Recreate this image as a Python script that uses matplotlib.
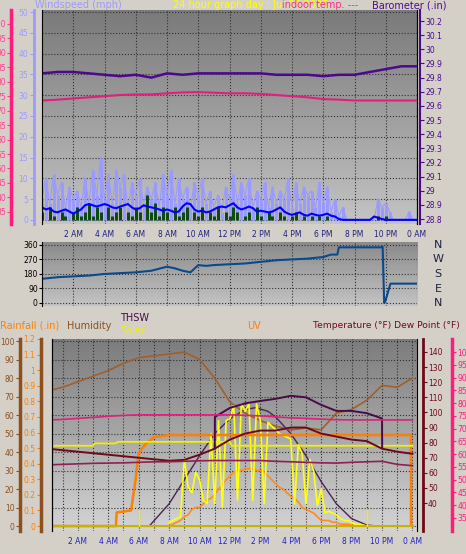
import matplotlib
matplotlib.use('Agg')
import matplotlib.pyplot as plt
import numpy as np

plt.rcParams['font.family'] = ['DejaVu Sans']
plt.rcParams['font.size'] = 5.5
FS = 5.5
HFS = 7

# ---------------- data ----------------
hour_ticks = list(range(2, 25, 2))
hour_labels = ['2 AM', '4 AM', '6 AM', '8 AM', '10 AM', '12 PM', '2 PM', '4 PM',
               '6 PM', '8 PM', '10 PM', '0 AM']

# top panel, quarter-hour steps
wind_t = [i * 0.25 for i in range(97)]
gust = [5, 10, 4, 11, 6, 9, 3, 8, 5, 7, 3, 10, 4, 12, 6, 15, 5, 11, 4, 12, 8, 11, 3, 9,
        6, 10, 4, 8, 5, 9, 3, 11, 6, 12, 4, 10, 5, 8, 3, 9, 6, 10, 4, 7, 3, 6, 2, 8,
        5, 11, 4, 9, 6, 10, 3, 7, 5, 9, 3, 8, 4, 7, 5, 10, 3, 9, 4, 8, 6, 7, 3, 9,
        4, 8, 2, 5, 1, 3, 0, 0, 0, 0, 0, 0, 0, 0, 5, 3, 4, 2, 0, 0, 0, 0, 2, 0, 0]
wind_avg = [3, 2.5, 2.8, 2, 1.8, 2.2, 2.5, 2, 1.5, 2, 2.5, 3.5, 3.8, 3.5, 3.2, 3.5, 3.8, 3.5, 3, 2.8,
            3.2, 3.5, 3.8, 3, 2.5, 2.8, 3.5, 3.2, 3, 2.8, 2.5, 2.2, 2.5, 2.2, 1.8, 2, 3.2, 4, 3.8, 2.5,
            2, 2.2, 1.8, 2, 2.5, 3, 3.2, 3, 3.5, 4, 3, 2.5, 2.8, 3.2, 2.8, 2, 2.2, 2, 1.8, 2,
            2.5, 3, 2, 1.5, 1.2, 1.5, 1.8, 1.2, 1, 1.5, 1.2, 1, 1.2, 1.5, 1, 0.8, 0.2, 0, 0, 0,
            0, 0, 0, 0, 0, 0.8, 0.5, 0.2, 0, 0, 0, 0, 0, 0, 0, 0, 0]
wind_spd = [2, 0, 3, 1, 0, 2, 1, 0, 2, 3, 1, 2, 4, 1, 3, 2, 0, 3, 1, 2, 3, 0, 2, 1,
            3, 2, 0, 6, 2, 4, 1, 3, 2, 0, 3, 1, 2, 3, 0, 2, 1, 3, 0, 2, 1, 3, 0, 2,
            1, 3, 2, 0, 1, 2, 0, 3, 1, 0, 2, 1, 0, 2, 1, 0, 1, 2, 0, 1, 0, 1, 0, 1,
            0, 1, 0, 0, 0, 0, 0, 0, 0, 0, 0, 0, 0, 0, 1, 0, 1, 0, 0, 0, 0, 0, 0, 0, 0]

t_hourly = list(range(25))
barometer = [29.83, 29.84, 29.84, 29.83, 29.82, 29.81, 29.82, 29.80, 29.83, 29.82, 29.83, 29.83,
             29.83, 29.83, 29.83, 29.82, 29.82, 29.82, 29.81, 29.82, 29.82, 29.84, 29.86, 29.88, 29.88]
indoor = [73.5, 73.8, 74.2, 74.6, 75.0, 75.4, 75.6, 75.6, 76.0, 76.3, 76.4, 76.2,
          76.0, 76.0, 75.8, 75.4, 75.0, 74.6, 74.0, 73.8, 73.5, 73.5, 73.5, 73.5, 73.5]

dir_t = [0, 1, 2, 3, 4, 5, 6, 7, 8, 8.5, 9, 9.5, 10, 10.5, 11, 12, 13, 14, 15, 16, 17, 18,
         18.5, 18.9, 19, 21.7, 21.8, 21.9, 22.0, 22.3, 24]
wind_dir = [150, 160, 165, 170, 180, 185, 190, 200, 225, 215, 200, 190, 235, 230, 235, 240,
            245, 255, 265, 270, 275, 285, 300, 300, 345, 345, 350, 0, 20, 120, 120]

# bottom panel
humidity = [73, 75, 78, 81, 84, 88, 91, 92, 93, 94, 90, 80, 67, 61, 57, 54, 52, 53,
            52, 61, 63, 68, 76, 75, 80]
temperature = [76, 75, 74, 73, 72, 71, 70, 69, 68, 68.6, 72, 76, 82, 86, 88, 88, 90, 90,
               86, 84, 82, 81, 76, 74, 72.6]
dew_point = [55.8, 56, 56.2, 56.4, 56.5, 56.6, 56.8, 57, 57, 57.2, 57.4, 57.5, 57.5,
             57.5, 57.5, 57.2, 57, 56.8, 56.6, 56.5, 56.8, 57, 57.2, 56, 55.5]
indoor_bot = [73.4, 73.6, 74, 74.4, 74.8, 75.2, 75.4, 75.4, 75.4, 75.4, 75.4, 75.4, 75.4,
              75.2, 75, 74.6, 74.2, 74, 73.7, 73.5, 73.4, 73.4, 73.4, 73.4, 73.4]
thsw_t = [11, 11.01, 12, 13, 14, 15, 16, 17, 18, 19, 20, 21, 22, 22.01]
thsw = [76, 97, 103, 106, 107.6, 109, 111, 110, 105, 101, 101, 99.5, 96, 77]
solar_max_t = [6.7, 8, 9, 10, 11, 12, 13, 13.7, 14.5, 15, 16, 17, 18, 19, 20, 21, 21.7]
solar_max = [0, 12, 25, 38, 50, 58, 63, 64, 62, 59, 50, 38, 24, 12, 4, 0.5, 0]
solar_t = [i * 0.25 + 8 for i in range(53)]
solar = [2, 3, 4, 5, 36, 21, 18, 29, 25, 14, 12, 50, 12, 57, 10, 57, 58, 65, 14, 66, 62, 66, 14,
         66, 57, 12, 56, 54, 52, 50, 49, 48, 47, 12, 44, 39, 12, 36, 30, 11, 20, 7, 8, 7, 6, 4,
         3, 3, 2, 1, 1, 0.5, 0]
uv = [0, 1, 2, 3, 5, 6, 9, 10, 10, 12, 14, 15, 17, 20, 22, 25, 27, 29, 30, 30, 31, 31, 31,
      30, 30, 29, 27, 25, 23, 21, 20, 18, 16, 15, 13, 10, 9, 8, 7, 5, 3, 3, 3, 2, 2, 1, 1,
      1, 0.5, 0, 0, 0, 0]
rain_t = [0, 4.5, 4.55, 5.5, 5.8, 6.0, 6.5, 7, 8, 23.9, 23.91, 24]
rainfall = [0, 0, 0.087, 0.1, 0.3, 0.47, 0.53, 0.57, 0.584, 0.584, 0, 0]
et_t = [0, 3, 3.1, 4.5, 4.6, 12, 12.1, 24]
et = [0.515, 0.515, 0.53, 0.53, 0.54, 0.54, 0.515, 0.515]

# ---------------- figure ----------------
BG = '#d4d0c8'
fig = plt.figure(figsize=(4.66, 5.54), dpi=100, facecolor=BG)
W, H = 466, 554


def box(x0, y0, x1, y1):
    return [x0 / W, 1 - y1 / H, (x1 - x0) / W, (y1 - y0) / H]


def gradient(ax, top='#7c7c7c', bottom='#d0d0d0'):
    c0 = np.array(matplotlib.colors.to_rgb(top))
    c1 = np.array(matplotlib.colors.to_rgb(bottom))
    g = np.linspace(0, 1, 256)[:, None, None]
    img = c0 * (1 - g) + c1 * g
    ax.imshow(img, extent=[0, 1, 0, 1], transform=ax.transAxes, aspect='auto', zorder=-5)


def style_x(ax, color):
    ax.set_xlim(0, 24)
    ax.set_xticks(hour_ticks)
    ax.set_xticklabels(hour_labels, color=color, fontsize=FS)
    ax.tick_params(axis='x', length=0, pad=4)


# ---- top panel ----
ax1 = fig.add_axes(box(42, 10, 417, 224))
gradient(ax1, '#7a7a7a', '#c4c4c4')
ax1.vlines(wind_t, 0, gust, color='#9a9aff', lw=2.2)
ax1.plot(wind_t, gust, color='#9a9aff', lw=0.8)
ax1.vlines(wind_t, 0, wind_spd, color='#0c4a10', lw=2.2)
ax1.plot(wind_t, wind_avg, color='#0000ff', lw=1.5)
ax1.set_ylim(-1, 50.5)
ax1.set_yticks(range(0, 51, 5))
ax1.tick_params(axis='y', colors='#9a9aff', labelsize=FS, length=3, pad=1)
ax1.spines['left'].set_position(('outward', 6))
ax1.spines['left'].set_color('#9a9aff')
ax1.spines['left'].set_linewidth(2)
style_x(ax1, '#202080')
ax1.grid(True, color='#303030', ls=':', lw=0.8)

ax1p = ax1.twinx()
ax1p.plot(t_hourly, indoor, color='#e0207a', lw=1.5)
ax1p.set_ylim(30.8, 104.8)
ax1p.set_yticks(range(35, 101, 5))
ax1p.yaxis.set_ticks_position('left')
ax1p.spines['left'].set_visible(True)
ax1p.spines['left'].set_position(('outward', 22))
ax1p.spines['left'].set_color('#ff1c7c')
ax1p.spines['left'].set_linewidth(2.5)
ax1p.tick_params(axis='y', colors='#ff3c8c', labelsize=FS, length=3, pad=1)

ax1b = ax1.twinx()
ax1b.plot(t_hourly, barometer, color='#4b0a8c', lw=1.8)
ax1b.set_ylim(28.765, 30.278)
bticks = np.round(np.arange(28.8, 30.25, 0.1), 1)
ax1b.set_yticks(bticks)
ax1b.set_yticklabels([f'{v:g}' for v in bticks])
ax1b.spines['right'].set_position(('outward', 2))
ax1b.spines['right'].set_color('#4b0a8c')
ax1b.spines['right'].set_linewidth(1.5)
ax1b.tick_params(axis='y', colors='#4b0a8c', labelsize=FS, length=3, pad=1)
for s in ['top', 'bottom']:
    for a in (ax1, ax1p, ax1b):
        a.spines[s].set_visible(False)

fig.text(35 / W, 1 - 5 / H, 'Windspeed (mph)', color='#9a9aff', fontsize=HFS, va='center')
fig.text(173 / W, 1 - 5 / H, '24 hour graph day : Jul 05 2025', color='#ffff00',
         fontsize=HFS, va='center')
fig.text(282 / W, 1 - 5 / H, 'indoor temp. ---', color='#ff1c7c', fontsize=HFS, va='center',
         alpha=0.9)
fig.text(372 / W, 1 - 5 / H, 'Barometer (.in)', color='#4b0a8c', fontsize=HFS, va='center')

# ---- middle panel ----
ax2 = fig.add_axes(box(42, 242, 417, 306))
gradient(ax2, '#8a8a8a', '#c4c4c4')
ax2.plot(dir_t, wind_dir, color='#0a4a8c', lw=1.5)
ax2.set_ylim(-18.6, 378)
ax2.set_yticks([0, 90, 180, 270, 360])
ax2.tick_params(axis='y', labelsize=FS, length=2, pad=1)
ax2.set_xlim(0, 24)
ax2.set_xticks(hour_ticks)
ax2.set_xticklabels([])
ax2.tick_params(axis='x', length=0)
ax2.grid(True, color='#303030', ls=':', lw=0.8)
for s in ['top', 'right', 'bottom']:
    ax2.spines[s].set_visible(False)
for i, lab in enumerate(['N', 'W', 'S', 'E', 'N']):
    fig.text(438 / W, 1 - (245 + i * 14.5) / H, lab, fontsize=8, ha='center', va='center',
             color='#202040')

# ---- bottom panel ----
ax3 = fig.add_axes(box(52, 339, 417, 531))
gradient(ax3, '#7c7c7c', '#d4d4d4')
ax3.plot(solar_max_t, solar_max, color='#50205a', lw=1)
ax3.plot(t_hourly, humidity, color='#a0602a', lw=1.2)
ax3.plot(solar_t, uv, color='#ff8c1a', lw=1.2)
ax3.plot(solar_t, solar, color='#ffff10', lw=1.2)
ax3.set_ylim(-2.7, 101.1)
ax3.set_yticks(range(0, 101, 10))
ax3.spines['left'].set_position(('outward', 23))
ax3.spines['left'].set_color('#8c5020')
ax3.spines['left'].set_linewidth(2.5)
ax3.tick_params(axis='y', colors='#8c5020', labelsize=FS, length=3, pad=1)
style_x(ax3, '#2020d0')
ax3.set_xlim(0.3, 24.3)
ax3.set_xticks(range(1, 25), minor=True)
ax3.tick_params(axis='x', which='minor', length=0)
ax3.grid(True, which='both', color='#303030', ls=':', lw=0.8)

ax3r = ax3.twinx()
ax3r.plot(rain_t, rainfall, color='#ff8000', lw=1.8)
ax3r.plot(et_t, et, color='#f0f000', lw=1.3)
ax3r.plot([0, 24], [0.003, 0.003], color='#c8b400', lw=1.5)
ax3r.plot([6, 6], [0, 0.1], color='#f0f000', lw=1)
ax3r.plot([21, 21], [0, 0.1], color='#f0f000', lw=1)
ax3r.set_ylim(-0.032, 1.196)
rticks = np.round(np.arange(0, 1.21, 0.1), 1)
ax3r.set_yticks(rticks)
ax3r.set_yticklabels([f'{v:g}' for v in rticks])
ax3r.yaxis.set_ticks_position('left')
ax3r.spines['left'].set_visible(True)
ax3r.spines['left'].set_position(('outward', 8))
ax3r.spines['left'].set_color('#8c5020')
ax3r.spines['left'].set_linewidth(2.5)
ax3r.tick_params(axis='y', colors='#ff8000', labelsize=FS, length=3, pad=1)

ax3t = ax3.twinx()
ax3t.plot(t_hourly, temperature, color='#6e0a18', lw=1.4)
ax3t.plot(thsw_t, thsw, color='#4a0a48', lw=1.4)
ax3t.set_ylim(21.5, 148.6)
ax3t.set_yticks(range(40, 141, 10))
ax3t.spines['right'].set_position(('outward', 4))
ax3t.spines['right'].set_color('#6e0a18')
ax3t.spines['right'].set_linewidth(2)
ax3t.tick_params(axis='y', colors='#6e0a18', labelsize=FS, length=3, pad=1)

ax3d = ax3.twinx()
ax3d.plot(t_hourly, dew_point, color='#902050', lw=1.2)
ax3d.plot(t_hourly, indoor_bot, color='#e0207a', lw=1.2)
ax3d.set_ylim(29.9, 105.1)
ax3d.set_yticks(range(35, 101, 5))
ax3d.spines['right'].set_position(('outward', 25))
ax3d.spines['right'].set_color('#ff1c7c')
ax3d.spines['right'].set_linewidth(2.5)
ax3d.tick_params(axis='y', colors='#ff1c7c', labelsize=FS, length=3, pad=1)
for a in (ax3, ax3r, ax3t, ax3d):
    a.spines['top'].set_visible(False)
    a.spines['bottom'].set_visible(False)
ax3.spines['right'].set_visible(False)

fig.text(0 / W, 1 - 326 / H, 'Rainfall (.in)', color='#ff8000', fontsize=HFS, va='center')
fig.text(67 / W, 1 - 326 / H, 'Humidity', color='#8c5020', fontsize=HFS, va='center')
fig.text(120 / W, 1 - 318 / H, 'THSW', color='#4a0a48', fontsize=HFS, va='center')
fig.text(120 / W, 1 - 331 / H, 'Solar', color='#f0f000', fontsize=HFS, va='center')
fig.text(247 / W, 1 - 326 / H, 'UV', color='#ff8000', fontsize=HFS, va='center')
fig.text(313 / W, 1 - 326 / H, 'Temperature (°F) Dew Point (°F)', color='#6e0a18',
         fontsize=6.6, va='center')

fig.savefig('out.png', dpi=100, facecolor=BG)
